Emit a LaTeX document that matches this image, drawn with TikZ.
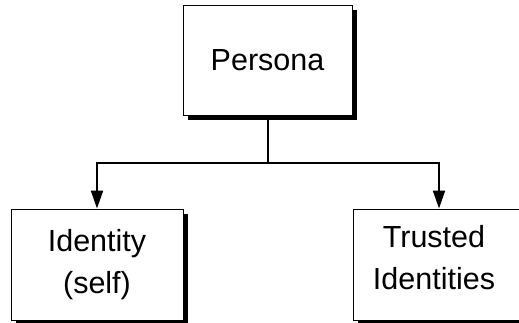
\documentclass[tikz,border=0pt]{standalone}
\usepackage{fontspec}
\setmainfont{Liberation Sans}
\usetikzlibrary{arrows.meta,shadows}
\tikzset{
  box/.style={draw=black, line width=0.9pt, fill=white, align=center,
    font=\fontsize{30.5}{42}\selectfont, inner sep=0pt,
    drop shadow={shadow xshift=5pt, shadow yshift=-5pt, fill=black, opacity=1}},
  boxtext/.style={align=center, font=\fontsize{30.5}{42}\selectfont, inner sep=0pt},
  conn/.style={line width=2pt, -{Triangle[length=18pt,width=12pt]}},
}
\begin{document}
\begin{tikzpicture}[x=1pt,y=-1pt]
\useasboundingbox[fill=white] (0,0) rectangle (519,323);
\node[box, minimum width=169pt, minimum height=110pt] (persona) at (267.5,60) {Persona};
\node[box, minimum width=172pt, minimum height=111pt] (ident) at (97,264.5) {Identity\\(self)};
\node[box, minimum width=172pt, minimum height=111pt] (trust) at (439,264.5) {};
\node[boxtext] (trusttext) at (434,258) {Trusted\\Identities};
\coordinate (j) at (267.5,163);
\draw[line width=2pt] ([yshift=-5pt]persona.south) -- (j);
\draw[conn] (j) -| (ident.north);
\draw[conn] (j) -| (trust.north);
\end{tikzpicture}
\end{document}
